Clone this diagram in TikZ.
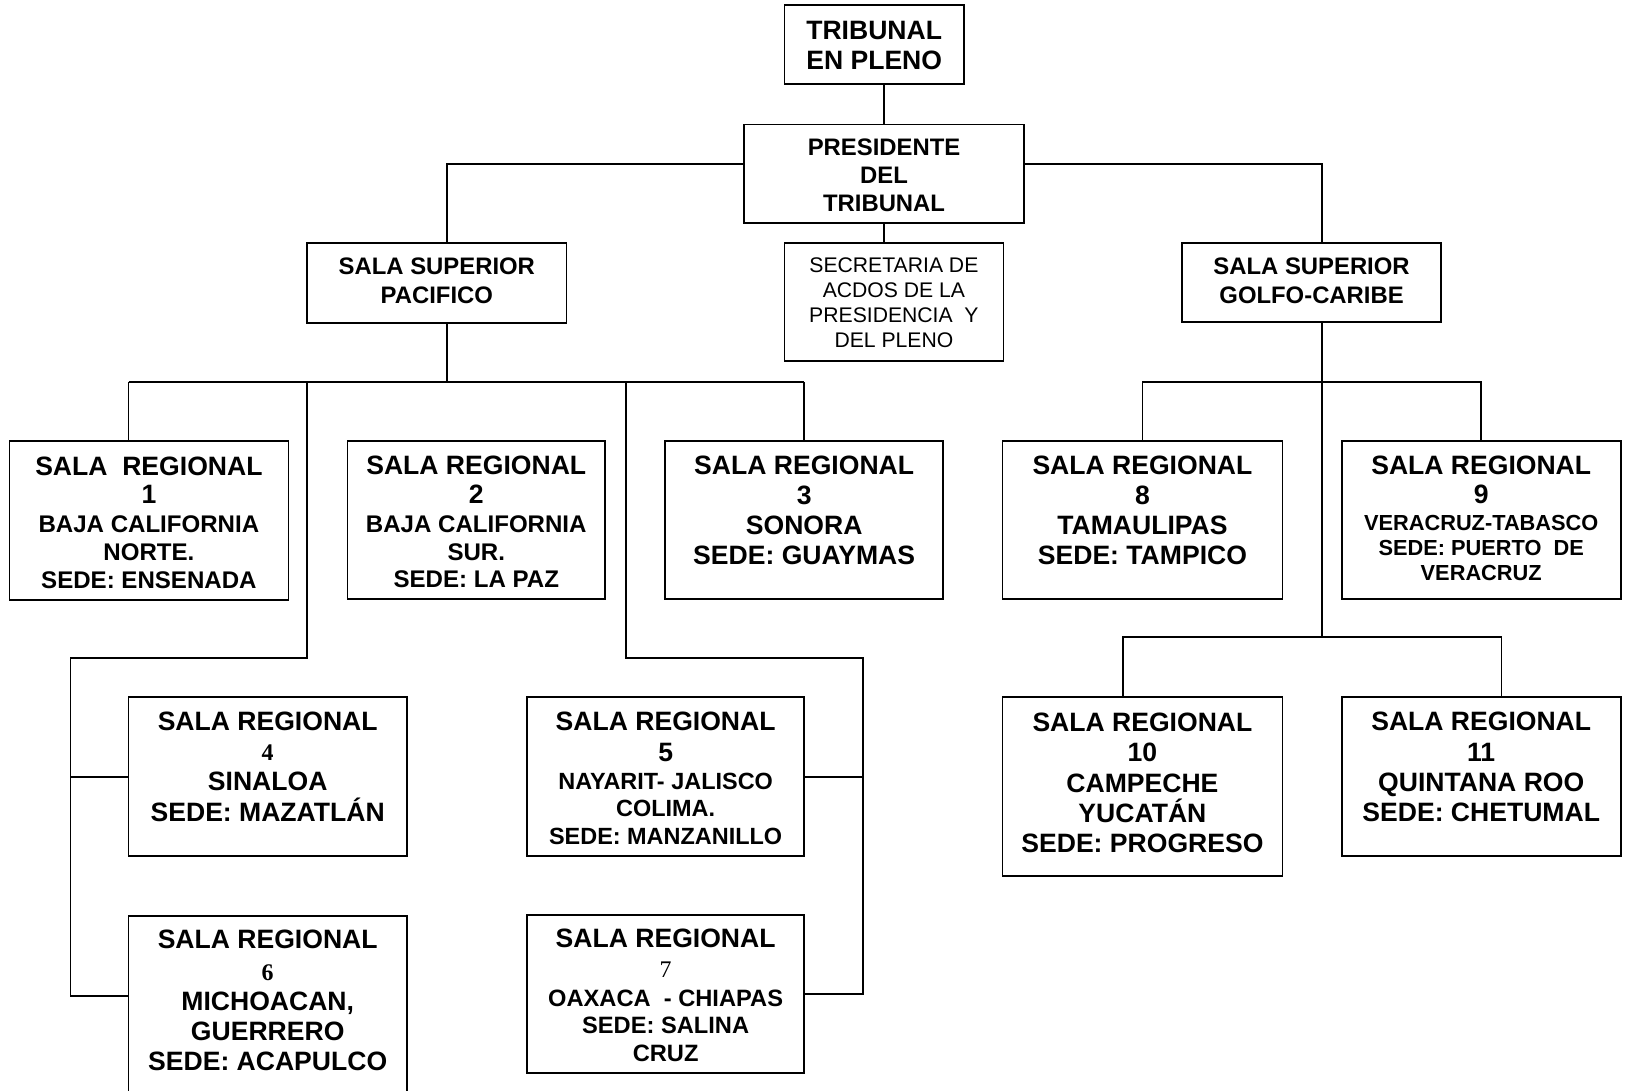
\documentclass[tikz,border=0pt]{standalone}
\usepackage{fontspec}
\setmainfont{Liberation Sans}
\newfontfamily\numserif{Liberation Serif}
\newcommand\fb[1]{\rule{0pt}{#1pt}}
\newcommand\sdig[1]{{\numserif\bfseries\fontsize{11.5}{10}\selectfont #1}}
\newcommand\sdigm[1]{{\numserif\mdseries\fontsize{11.5}{10}\selectfont #1}}
\newcommand\obox[7]{%
  \pgfmathsetmacro\obw{(#4-#2)*0.5}%
  \pgfmathsetmacro\obh{(#5-#3)*0.5}%
  \node[orgbox,#6] (#1) at ({(#2+#4)/2},{(#3+#5)/2})
     {\parbox[c][\obh pt][t]{\obw pt}{\centering #7}};%
}
\tikzset{
  orgbox/.style={draw, line width=0.8pt, inner sep=0pt, outer sep=0pt},
  conn/.style={line width=0.8pt},
  bx/.style={font=\bfseries\fontsize{12.8}{#1}\selectfont},
  midb/.style={font=\bfseries\fontsize{11.5}{#1}\selectfont},
  secf/.style={font=\mdseries\fontsize{10.2}{12}\selectfont}
}
\begin{document}
\begin{tikzpicture}[x=0.5pt,y=-0.5pt]
\useasboundingbox (0,0) rectangle (1568,1051);
\clip (0,0) rectangle (1568,1051);

% top level
\obox{trib}{756}{5}{929}{81}{bx=14.45}{\fb{16.3}TRIBUNAL\\EN PLENO}
\obox{pres}{717}{120}{987}{215}{midb=13.5}{\fb{14.7}PRESIDENTE\\DEL\\TRIBUNAL}
\obox{sec}{756}{234}{967}{348}{secf}{\fb{14.4}SECRETARIA DE\\ACDOS DE LA\\PRESIDENCIA\ \ Y\\DEL PLENO}
\obox{pac}{296}{234}{546}{311}{midb=13.65}{\fb{15.5}SALA SUPERIOR\\PACIFICO}
\obox{gol}{1139}{234}{1389}{310}{midb=13.65}{\fb{15.5}SALA SUPERIOR\\GOLFO-CARIBE}

% regional row 1
\obox{r1}{9}{425}{278}{578}{bx=13.95}{\fb{16.4}SALA\ \ REGIONAL\\1\\[0.45pt]\fontsize{11.6}{13.4}\selectfont BAJA CALIFORNIA\\NORTE.\\SEDE: ENSENADA}
\obox{r2}{335}{425}{583}{577}{bx=13.95}{\fb{16.2}SALA REGIONAL\\2\\[0.45pt]\fontsize{11.6}{13.4}\selectfont BAJA CALIFORNIA\\SUR.\\SEDE: LA PAZ}
\obox{r3}{641}{425}{909}{577}{bx=14.5}{\fb{16}SALA REGIONAL\\3\\SONORA\\SEDE: GUAYMAS}
\obox{r8}{966}{425}{1236}{577}{bx=14.5}{\fb{16}SALA REGIONAL\\8\\TAMAULIPAS\\SEDE: TAMPICO}
\obox{r9}{1293}{425}{1562}{577}{bx=14.35}{\fb{16}SALA REGIONAL\\9\\[0.45pt]\fontsize{10.5}{12.1}\selectfont VERACRUZ-TABASCO\\SEDE: PUERTO\ \ DE\\VERACRUZ}

% regional row 2
\obox{r4}{124}{672}{392}{825}{bx=14.6}{\fb{15.9}SALA REGIONAL\\\sdig{4}\\SINALOA\\SEDE: MAZATLÁN}
\obox{r5}{508}{672}{775}{825}{bx=14.6}{\fb{16.1}SALA REGIONAL\\5\\[0.15pt]\fontsize{11.3}{13.35}\selectfont NAYARIT- JALISCO\\COLIMA.\\SEDE: MANZANILLO}
\obox{r10}{966}{672}{1236}{844}{bx=14.65}{\fb{16.4}SALA REGIONAL\\10\\CAMPECHE\\YUCATÁN\\SEDE: PROGRESO}
\obox{r11}{1293}{672}{1562}{825}{bx=14.6}{\fb{16.1}SALA REGIONAL\\11\\QUINTANA ROO\\SEDE: CHETUMAL}

% regional row 3
\obox{r6}{124}{883}{392}{1080}{bx=14.45}{\fb{15.5}SALA REGIONAL\\[0.8pt]\sdig{6}\\MICHOACAN,\\GUERRERO\\SEDE: ACAPULCO}
\obox{r7}{508}{882}{775}{1034}{bx=14.1}{\fb{15.75}SALA REGIONAL\\\sdigm{7}\\[0.75pt]\fontsize{11.4}{13.25}\selectfont OAXACA\ \ - CHIAPAS\\SEDE: SALINA\\CRUZ}

% connectors: top
\draw[conn] (pres.north) -- (pres.north |- trib.south);
\draw[conn] (pres.south) -- (pres.south |- sec.north);
\coordinate (pl) at (431,158);
\coordinate (pr) at (1274,158);
\draw[conn] (pres.west |- pl) -- (pl) -- (pl |- pac.north);
\draw[conn] (pres.east |- pr) -- (pr) -- (pr |- gol.north);

% Pacifico
\coordinate (pb) at (431,368);
\draw[conn] (pb |- pac.south) -- (pb);
\coordinate (bA) at (124,368);
\coordinate (bB) at (296,368);
\coordinate (bC) at (603,368);
\coordinate (bD) at (775,368);
\draw[conn] (bA) -- (bD);
\draw[conn] (bA) -- (bA |- r1.north);
\draw[conn] (bD) -- (bD |- r3.north);
\coordinate (lk) at (296,634);
\coordinate (lc) at (68,634);
\coordinate (l6) at (68,960);
\draw[conn] (bB) -- (lk) -- (lc) -- (l6) -- (l6 -| r6.west);
\draw[conn] (lc |- r4.west) -- (r4.west);
\coordinate (rk) at (603,634);
\coordinate (rc) at (832,634);
\coordinate (r7c) at (832,958);
\draw[conn] (bC) -- (rk) -- (rc) -- (r7c) -- (r7c -| r7.east);
\draw[conn] (rc |- r5.east) -- (r5.east);

% Golfo-Caribe
\coordinate (gb) at (1274,614);
\draw[conn] (gb |- gol.south) -- (gb);
\coordinate (g8) at (1101,368);
\coordinate (g9) at (1427,368);
\draw[conn] (g8 |- r8.north) -- (g8) -- (g9) -- (g9 |- r9.north);
\coordinate (g10) at (1082,614);
\coordinate (g11) at (1447,614);
\draw[conn] (g10 |- r10.north) -- (g10) -- (g11) -- (g11 |- r11.north);
\end{tikzpicture}
\end{document}
